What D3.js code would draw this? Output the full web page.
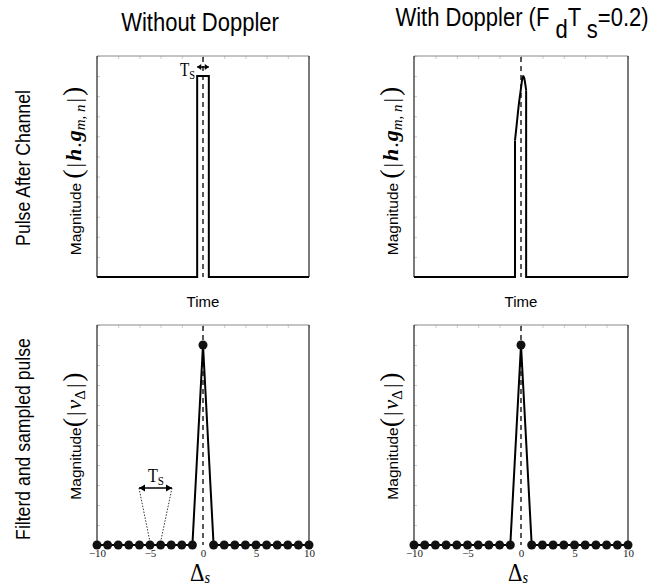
<!DOCTYPE html>
<html>
<head>
<meta charset="utf-8">
<script src="https://cdn.jsdelivr.net/npm/d3@7"></script>
<style>
  body { margin: 0; background: #fff; }
  svg { display: block; }
</style>
</head>
<body>
<svg id="drawing_region"></svg>
<script>
// pulse after channel (time axis, pulse centred on 0, width Ts)
const pulseTimeNoDoppler = [-10, -0.55, -0.55, 0.55, 0.55, 10];
const pulseMagNoDoppler  = [0, 0, 1, 1, 0, 0];

// with doppler the top of the pulse is tilted / curved
const pulseTimeDoppler = [-0.56, -0.4, -0.2, 0, 0.1, 0.2, 0.3, 0.4, 0.48];
const pulseMagDoppler  = [0.68, 0.76, 0.86, 0.94, 0.98, 1.0, 0.99, 0.96, 0.93];

// filtered and sampled pulse
const sampleIdx = [-10, -9, -8, -7, -6, -5, -4, -3, -2, -1, 0, 1, 2, 3, 4, 5, 6, 7, 8, 9, 10];
const samplesNoDoppler = [0, 0, 0, 0, 0, 0, 0, 0, 0, 0, 1, 0, 0, 0, 0, 0, 0, 0, 0, 0, 0];
const samplesDoppler   = [0, 0, 0, 0, 0, 0, 0, 0, 0, 0, 1, 0, 0, 0, 0, 0, 0, 0, 0, 0, 0];
const sampleTicks = [-10, -5, 0, 5, 10];

const config = {
  width: 671,
  height: 586,
  cols: [{x0: 97, x1: 309}, {x0: 414, x1: 628}],
  rows: [{y0: 56, y1: 277}, {y0: 325, y1: 545}]
};

const svg = d3.select('#drawing_region')
  .attr('width', config.width)
  .attr('height', config.height);

const sans = 'Liberation Sans, Arial, sans-serif';
const serif = 'Liberation Serif, Times New Roman, serif';

function frame(col, row) {
  const c = config.cols[col], r = config.rows[row];
  const g = svg.append('g');
  const x = d3.scaleLinear().domain([-10, 10]).range([c.x0, c.x1]);
  const y = d3.scaleLinear().domain([0, 1.1]).range([r.y1, r.y0]);

  // faint minor ticks on top and left borders
  const xt = d3.axisTop(x).ticks(8).tickSize(-3).tickFormat('');
  g.append('g').attr('transform', `translate(0,${r.y0})`).call(xt)
    .call(a => a.selectAll('line').attr('stroke', '#ccc'))
    .call(a => a.select('.domain').remove());
  const yt = d3.axisLeft(y).ticks(8).tickSize(-3).tickFormat('');
  g.append('g').attr('transform', `translate(${c.x0},0)`).call(yt)
    .call(a => a.selectAll('line').attr('stroke', '#ccc'))
    .call(a => a.select('.domain').remove());

  g.append('line').attr('x1', c.x0).attr('x2', c.x1).attr('y1', r.y0).attr('y2', r.y0)
    .attr('stroke', '#8a8a8a').attr('stroke-width', 1.2);
  g.append('line').attr('x1', c.x0).attr('x2', c.x0).attr('y1', r.y0).attr('y2', r.y1)
    .attr('stroke', '#222').attr('stroke-width', 1.2);
  g.append('line').attr('x1', c.x1).attr('x2', c.x1).attr('y1', r.y0).attr('y2', r.y1)
    .attr('stroke', '#222').attr('stroke-width', 1.2);

  // dashed centre line
  g.append('line').attr('x1', x(0)).attr('x2', x(0)).attr('y1', r.y0 + 1).attr('y2', r.y1)
    .attr('stroke', '#000').attr('stroke-width', 1.3).attr('stroke-dasharray', '5,4');
  return {g, x, y, c, r};
}

// ---------- top left ----------
{
  const p = frame(0, 0);
  const line = d3.line().x(d => p.x(d[0])).y(d => p.y(d[1]));
  const pts = pulseTimeNoDoppler.map((t, i) => [t, pulseMagNoDoppler[i]]);
  p.g.append('path').attr('d', line(pts)).attr('fill', 'none')
    .attr('stroke', '#000').attr('stroke-width', 2);

  // Ts arrow
  const ay = 67;
  p.g.append('line').attr('x1', p.x(-0.55)).attr('x2', p.x(0.55)).attr('y1', ay).attr('y2', ay)
    .attr('stroke', '#000').attr('stroke-width', 1.5);
  [[-0.55, 1], [0.55, -1]].forEach(([t, s]) => {
    const xx = p.x(t);
    p.g.append('path').attr('d', `M${xx},${ay} l${4 * s},-3 l0,6 z`).attr('fill', '#000');
  });
  const ts = p.g.append('text').attr('transform', 'translate(195,76) scale(0.8,1)').attr('text-anchor', 'end')
    .attr('font-family', serif).attr('font-size', 19);
  ts.append('tspan').text('T');
  ts.append('tspan').attr('font-size', 13).attr('dy', 3).text('S');
}

// ---------- top right ----------
{
  const p = frame(1, 0);
  const top = pulseTimeDoppler.map((t, i) => [t, pulseMagDoppler[i]]);
  const first = top[0], last = top[top.length - 1];
  const base = d3.line().x(d => p.x(d[0])).y(d => p.y(d[1]));
  p.g.append('path')
    .attr('d', base([[-10, 0], [first[0], 0], first]))
    .attr('fill', 'none').attr('stroke', '#000').attr('stroke-width', 2);
  p.g.append('path')
    .attr('d', d3.line().curve(d3.curveMonotoneX).x(d => p.x(d[0])).y(d => p.y(d[1]))(top))
    .attr('fill', 'none').attr('stroke', '#000').attr('stroke-width', 2);
  p.g.append('path')
    .attr('d', base([last, [last[0], 0], [10, 0]]))
    .attr('fill', 'none').attr('stroke', '#000').attr('stroke-width', 2);
}

// ---------- bottom panels ----------
function sampled(col, vals) {
  const p = frame(col, 1);
  const pts = sampleIdx.map((k, i) => [k, vals[i]]);
  p.g.append('path')
    .attr('d', d3.line().x(d => p.x(d[0])).y(d => p.y(d[1]))(pts))
    .attr('fill', 'none').attr('stroke', '#000').attr('stroke-width', 2);
  p.g.selectAll('circle').data(pts).enter().append('circle')
    .attr('cx', d => p.x(d[0])).attr('cy', d => p.y(d[1])).attr('r', 4.5)
    .attr('fill', '#111');

  const ax = d3.axisBottom(p.x).tickValues(sampleTicks).tickSize(0).tickPadding(4);
  p.g.append('g').attr('transform', `translate(0,${p.r.y1})`).call(ax)
    .call(a => a.select('.domain').remove())
    .call(a => a.selectAll('text').attr('font-family', serif).attr('font-size', 11).attr('fill', '#222'));

  const lab = p.g.append('text').attr('transform', `translate(${p.x(0) - 3},581) scale(0.9,1)`)
    .attr('text-anchor', 'middle').attr('font-family', serif);
  lab.append('tspan').attr('font-size', 25).text('Δ');
  lab.append('tspan').attr('font-size', 16).attr('font-style', 'italic').attr('dy', 2).text('s');
  return p;
}

const bl = sampled(0, samplesNoDoppler);
sampled(1, samplesDoppler);

// Ts annotation between samples -5 and -4
{
  const p = bl;
  const ax0 = 139, ax1 = 172, ay = 488;
  p.g.append('line').attr('x1', ax0).attr('x2', ax1).attr('y1', ay).attr('y2', ay)
    .attr('stroke', '#000').attr('stroke-width', 1.5);
  p.g.append('path').attr('d', `M${ax0},${ay} l6,-3.5 l0,7 z`).attr('fill', '#000');
  p.g.append('path').attr('d', `M${ax1},${ay} l-6,-3.5 l0,7 z`).attr('fill', '#000');
  p.g.append('line').attr('x1', ax0).attr('y1', ay).attr('x2', p.x(-5)).attr('y2', p.y(0) - 3)
    .attr('stroke', '#000').attr('stroke-width', 0.8).attr('stroke-dasharray', '1.5,1.5');
  p.g.append('line').attr('x1', ax1).attr('y1', ay).attr('x2', p.x(-4)).attr('y2', p.y(0) - 3)
    .attr('stroke', '#000').attr('stroke-width', 0.8).attr('stroke-dasharray', '1.5,1.5');
  const ts = p.g.append('text').attr('transform', 'translate(156,482) scale(0.85,1)')
    .attr('text-anchor', 'middle').attr('font-family', serif).attr('font-size', 19);
  ts.append('tspan').text('T');
  ts.append('tspan').attr('font-size', 13).attr('dy', 3).text('S');
}

// ---------- titles ----------
svg.append('text').attr('transform', 'translate(200,31) scale(0.88,1)').attr('text-anchor', 'middle')
  .attr('font-family', sans).attr('font-size', 25).text('Without Doppler');
{
  const t = svg.append('text').attr('transform', 'translate(522,26) scale(0.88,1)').attr('text-anchor', 'middle')
    .attr('font-family', sans).attr('font-size', 25);
  t.append('tspan').text('With Doppler (F ');
  t.append('tspan').attr('dy', 12).text('d');
  t.append('tspan').attr('dy', -12).text('T ');
  t.append('tspan').attr('dy', 12).text('s');
  t.append('tspan').attr('dy', -12).text('=0.2)');
}

['Time', 'Time'].forEach((s, i) => {
  const c = config.cols[i];
  svg.append('text').attr('x', (c.x0 + c.x1) / 2).attr('y', 307).attr('text-anchor', 'middle')
    .attr('font-family', sans).attr('font-size', 15).text(s);
});

// row labels
svg.append('text').attr('transform', 'translate(30,168) rotate(-90) scale(0.86,1)').attr('text-anchor', 'middle')
  .attr('font-family', sans).attr('font-size', 20.5).text('Pulse After Channel');
svg.append('text').attr('transform', 'translate(30,439) rotate(-90) scale(0.86,1)').attr('text-anchor', 'middle')
  .attr('font-family', sans).attr('font-size', 20.5).text('Filterd and sampled pulse');

// y labels
function ylabHG(cx, cy) {
  const t = svg.append('text').attr('transform', `translate(${cx},${cy}) rotate(-90)`)
    .attr('text-anchor', 'middle');
  t.append('tspan').attr('font-family', sans).attr('font-size', 15.5).text('Magnitude');
  t.append('tspan').attr('font-family', serif).attr('font-size', 28).attr('dx', 4).attr('dy', 1).text('(');
  t.append('tspan').attr('font-family', serif).attr('font-size', 22).attr('dx', 2).attr('dy', -1).text('|');
  t.append('tspan').attr('font-family', serif).attr('font-size', 22).attr('font-weight', 'bold')
    .attr('font-style', 'italic').attr('dx', 2).text('h');
  t.append('tspan').attr('font-family', serif).attr('font-size', 22).attr('dx', 1).text('.');
  t.append('tspan').attr('font-family', serif).attr('font-size', 22).attr('font-weight', 'bold')
    .attr('font-style', 'italic').attr('dx', 1).text('g');
  t.append('tspan').attr('font-family', serif).attr('font-size', 15).attr('font-style', 'italic')
    .attr('dy', 4).text('m, n');
  t.append('tspan').attr('font-family', serif).attr('font-size', 22).attr('dx', 2).attr('dy', -4).text('|');
  t.append('tspan').attr('font-family', serif).attr('font-size', 28).attr('dx', 2).attr('dy', 1).text(')');
}
function ylabNu(cx, cy) {
  const t = svg.append('text').attr('transform', `translate(${cx},${cy}) rotate(-90)`)
    .attr('text-anchor', 'middle');
  t.append('tspan').attr('font-family', sans).attr('font-size', 15.5).text('Magnitude');
  t.append('tspan').attr('font-family', serif).attr('font-size', 28).attr('dy', 1).text('(');
  t.append('tspan').attr('font-family', serif).attr('font-size', 22).attr('dx', 2).attr('dy', -1).text('|');
  t.append('tspan').attr('font-family', serif).attr('font-size', 22).attr('font-style', 'italic').attr('dx', 2).text('ν');
  t.append('tspan').attr('font-family', serif).attr('font-size', 15).attr('dy', 4).text('Δ');
  t.append('tspan').attr('font-family', serif).attr('font-size', 22).attr('dx', 2).attr('dy', -4).text('|');
  t.append('tspan').attr('font-family', serif).attr('font-size', 28).attr('dx', 2).attr('dy', 1).text(')');
}
ylabHG(81, 171);
ylabHG(398, 171);
ylabNu(81, 436);
ylabNu(398, 436);
</script>
</body>
</html>
